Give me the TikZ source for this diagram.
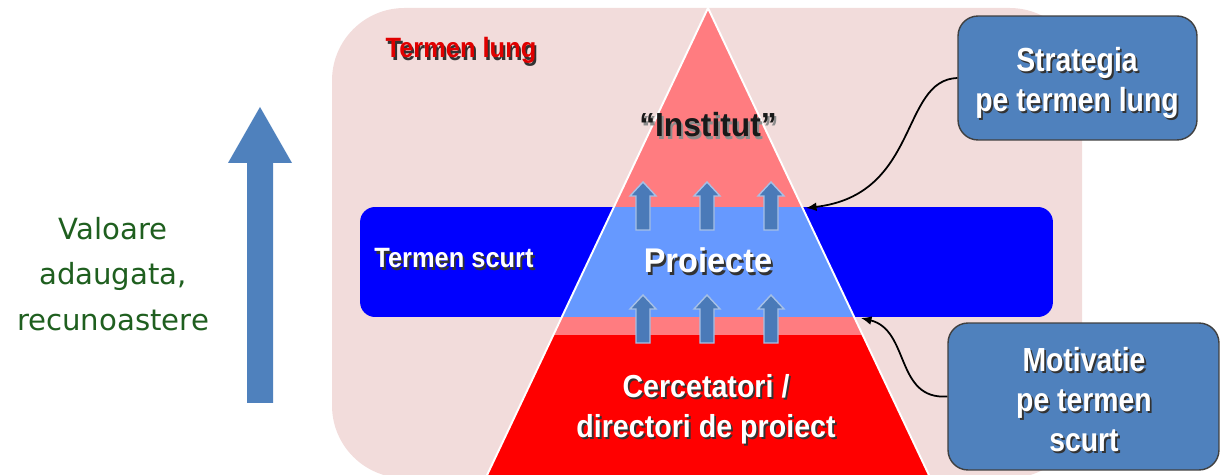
\documentclass[tikz,border=0pt]{standalone}
\usepackage{fontspec}
\setmainfont{Liberation Sans}
\newfontfamily\dvs{DejaVu Sans}
\usetikzlibrary{arrows.meta}
\definecolor{pinkbg}{HTML}{F2DCDB}
\definecolor{salmon}{HTML}{FF7C80}
\definecolor{lblue}{HTML}{6699FF}
\definecolor{pred}{HTML}{FF0000}
\definecolor{bandblue}{HTML}{0000FF}
\definecolor{steel}{HTML}{4F81BD}
\definecolor{arrblue}{HTML}{4A7AB8}
\definecolor{arrline}{HTML}{A6C0E6}
\definecolor{vgreen}{HTML}{1F5F1F}
\definecolor{tred}{HTML}{E00000}
\newcommand{\shd}[3]{\makebox[0pt][l]{\hspace{1.2pt}\raisebox{-1.2pt}{\textcolor{#1}{#3}}}\textcolor{#2}{#3}}
\newcommand{\nrw}[2]{\scalebox{#1}[1]{#2}}
\newcommand{\wt}[2]{\nrw{#1}{\shd{black!80}{white}{#2}}}
\tikzset{
  box/.style={fill=steel, draw=black!75, line width=0.8pt, rounded corners=0.4cm, inner sep=0pt},
  conn/.style={draw=black, line width=1pt, -{Latex[length=6pt,width=5pt]}},
  txt/.style={inner sep=0pt, align=center},
  uparr/.pic={\filldraw[fill=arrblue, draw=arrline, line width=0.8pt]
     (-7,0) -- (-7,-34) -- (-13,-34) -- (0,-48) -- (13,-34) -- (7,-34) -- (7,0) -- cycle;}
}
\begin{document}
\begin{tikzpicture}[x=0.02cm,y=-0.02cm]
\useasboundingbox (0,0) rectangle (1220,475);
\begin{scope}
\clip (0,0) rectangle (1220,475);
% background
\fill[pinkbg, rounded corners=1.45cm] (332,8) rectangle (1082,478);
% short-term band
\node[fill=bandblue, rounded corners=0.3cm, minimum width=13.86cm, minimum height=2.2cm, inner sep=0pt] (band) at (706.5,262) {};
% pyramid
\coordinate (apex) at (708,8);
\coordinate (pbl) at (480,490);
\coordinate (pbr) at (936,490);
\begin{scope}
\clip (apex) -- (pbl) -- (pbr) -- cycle;
\fill[salmon] (400,0) rectangle (1000,207);
\fill[lblue] (400,207) rectangle (1000,317);
\fill[salmon] (400,317) rectangle (1000,335);
\fill[pred] (400,335) rectangle (1000,490);
\end{scope}
\draw[white, line width=1.1pt] (pbl) -- (apex) -- (pbr);
% small arrows
\foreach \x in {643,707,771} {
  \pic at (\x,230) {uparr};
  \pic at (\x,343) {uparr};
}
% texts
\node[anchor=base, inner sep=0pt, font=\fontsize{15.9pt}{18pt}\selectfont\bfseries] (tlung) at (461,58) {\nrw{0.91}{\shd{black!80}{tred}{Termen lung}}};
\node[anchor=base, inner sep=0pt, font=\fontsize{19pt}{22pt}\selectfont\bfseries] (inst) at (708,137) {\nrw{0.95}{\shd{black!45}{black!90}{“Institut”}}};
\node[anchor=base, inner sep=0pt, font=\fontsize{19.5pt}{22pt}\selectfont\bfseries] (proi) at (708,273) {\wt{0.95}{Proiecte}};
\node[anchor=base, inner sep=0pt, font=\fontsize{15.9pt}{18pt}\selectfont\bfseries] (tscurt) at (454,268) {\wt{0.91}{Termen scurt}};
\node[txt, anchor=north, font=\fontsize{18.1pt}{22.7pt}\selectfont\bfseries] (cerc) at (706,374) {\wt{0.9}{Cercetatori /}\\\wt{0.9}{directori de proiect}};
% left arrow and label
\fill[steel] (247,403) -- (247,163) -- (228,163) -- (260,107) -- (292,163) -- (273,163) -- (273,403) -- cycle;
\node[txt, anchor=north, text=vgreen, font=\dvs\fontsize{16.6pt}{25.8pt}\selectfont] (val) at (113,217) {Valoare\\adaugata,\\recunoastere};
% side boxes
\node[box, minimum width=4.78cm, minimum height=2.48cm] (sbox) at (1077.5,78) {};
\node[txt, anchor=north, font=\fontsize{19pt}{22.7pt}\selectfont\bfseries] (stxt) at (1077,47) {\wt{0.85}{Strategia}\\\wt{0.85}{pe termen lung}};
\node[box, minimum width=5.42cm, minimum height=2.94cm] (mbox) at (1083.5,396.5) {};
\node[txt, anchor=north, font=\fontsize{19pt}{22.7pt}\selectfont\bfseries] (mtxt) at (1084,347) {\wt{0.85}{Motivatie}\\\wt{0.85}{pe termen}\\\wt{0.85}{scurt}};
% connectors
\coordinate (tipS) at (806,208);
\coordinate (tipM) at (861,318);
\draw[conn] (sbox.west) .. controls (900,80) and (920,195) .. (tipS);
\draw[conn] (mbox.west) .. controls (895,400) and (910,330) .. (tipM);
\end{scope}
\end{tikzpicture}
\end{document}
